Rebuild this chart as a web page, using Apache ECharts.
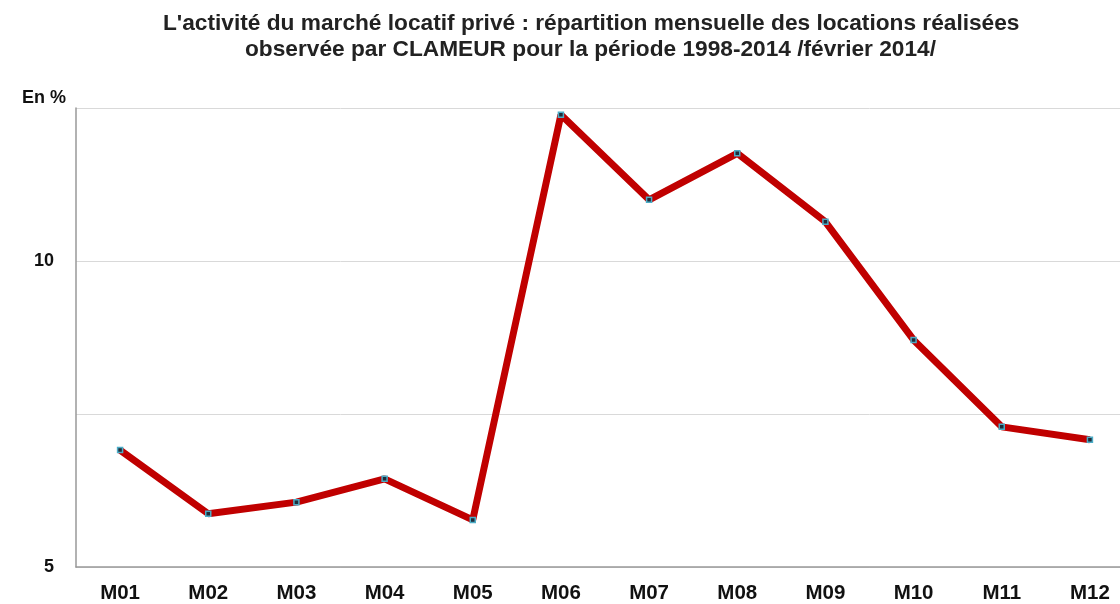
<!DOCTYPE html>
<html>
<head>
<meta charset="utf-8">
<script src="https://cdn.jsdelivr.net/npm/echarts@6/dist/echarts.min.js"></script>
<style>
  html, body { margin: 0; padding: 0; background: #fff; overflow: hidden; }
  /* plot runs past the right edge in the reference, so the canvas is wider than the window */
  #chart { width: 1134px; height: 604px; }
</style>
</head>
<body>
<div id="chart"></div>
<script>
const months = ['M01', 'M02', 'M03', 'M04', 'M05', 'M06', 'M07', 'M08', 'M09', 'M10', 'M11', 'M12'];
const locations = [6.91, 5.87, 6.06, 6.44, 5.77, 12.39, 11.0, 11.76, 10.64, 8.71, 7.29, 7.08];
const yLabels = [5, 10];
const titleLines = [
  "L'activité du marché locatif privé : répartition mensuelle des locations réalisées",
  'observée par CLAMEUR pour la période 1998-2014 /février 2014/'
];

const chart = echarts.init(document.getElementById('chart'));

const font = 'Liberation Sans, Arial, sans-serif';

const titleStyle = {
  fontFamily: font,
  fontSize: 22.7,
  fontWeight: 'bold',
  color: '#222'
};

const option = {
  animation: false,
  title: [
    { text: titleLines[0], left: 158, top: 7, textStyle: titleStyle },
    { text: titleLines[1], left: 240, top: 33, textStyle: titleStyle }
  ],
  grid: {
    left: 76,
    right: 0,
    top: 108,
    bottom: 37
  },
  xAxis: {
    type: 'category',
    data: months,
    boundaryGap: true,
    axisLine: { lineStyle: { color: '#999', width: 1.5 } },
    axisTick: { show: false },
    axisLabel: {
      margin: 16,
      fontFamily: font,
      fontSize: 20.5,
      fontWeight: 'bold',
      color: '#111'
    }
  },
  yAxis: {
    type: 'value',
    min: 5,
    max: 12.5,
    interval: 2.5,
    name: 'En %',
    nameLocation: 'end',
    nameGap: 1,
    nameTextStyle: {
      fontFamily: font,
      fontSize: 18,
      fontWeight: 'bold',
      color: '#111',
      align: 'right',
      padding: [0, 10, 0, 0]
    },
    axisLine: { show: true, lineStyle: { color: '#999', width: 1.5 } },
    axisTick: { show: false },
    splitLine: { lineStyle: { color: '#d9d9d9', width: 1 } },
    axisLabel: {
      margin: 22,
      fontFamily: font,
      fontSize: 18,
      fontWeight: 'bold',
      color: '#111',
      formatter: function (v) {
        return yLabels.indexOf(v) >= 0 ? String(v) : '';
      }
    }
  },
  series: [
    {
      type: 'line',
      data: locations,
      symbol: 'rect',
      symbolSize: 5,
      showAllSymbol: true,
      lineStyle: { color: '#c00000', width: 7 },
      itemStyle: { color: '#1f2d3a', borderColor: '#4bacc6', borderWidth: 1.5 }
    }
  ]
};

chart.setOption(option);
</script>
</body>
</html>
